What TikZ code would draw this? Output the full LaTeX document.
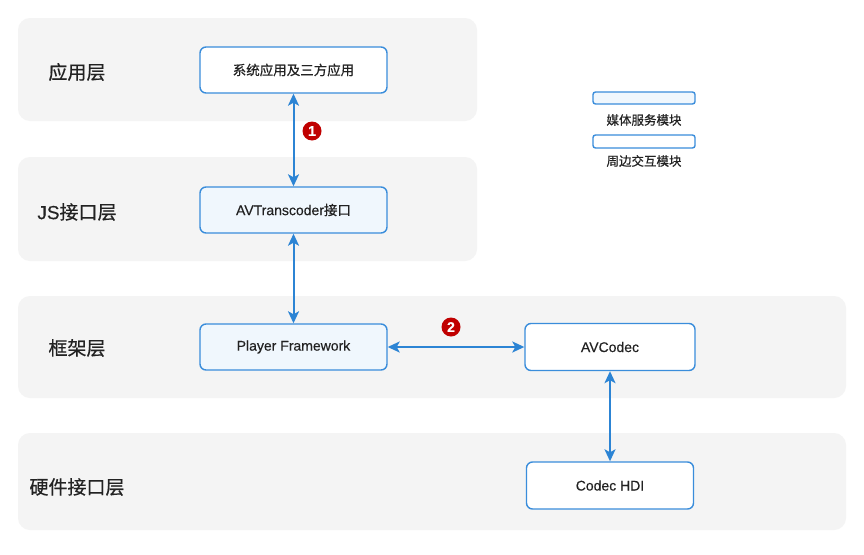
\documentclass[tikz,border=0pt]{standalone}
\usepackage{fontspec}
\setmainfont{Liberation Sans}[RawFeature={embolden=0.3}]
\newfontfamily\cjk{Noto Sans CJK SC}[RawFeature={embolden=0.6}]
\usetikzlibrary{arrows.meta}
\definecolor{layerbg}{HTML}{F4F4F4}
\definecolor{edgeblue}{HTML}{3A8DDB}
\definecolor{arrowblue}{HTML}{2C84D4}
\definecolor{paleblue}{HTML}{F0F7FD}
\definecolor{markred}{HTML}{C00000}
\definecolor{txt}{HTML}{222222}
\tikzset{
  layer/.style={fill=layerbg, draw=none, rounded corners=12pt},
  layerlabel/.style={font=\fontsize{19}{21}\selectfont, text=txt, anchor=center},
  modbox/.style={draw=edgeblue, line width=1.4pt, rounded corners=6pt, fill=white,
     minimum width=187pt, minimum height=46pt, inner sep=0pt,
     font=\fontsize{14}{16}\selectfont, text=txt},
  svcbox/.style={modbox, fill=paleblue},
  legbox/.style={draw=edgeblue, line width=1.4pt, rounded corners=2.5pt,
     minimum width=102pt, minimum height=12pt, inner sep=0pt},
  legtext/.style={font=\fontsize{12.5}{14}\selectfont, text=txt},
  link/.style={draw=arrowblue, line width=2pt,
     {Stealth[length=12pt,width=11pt,inset=3pt]}-{Stealth[length=12pt,width=11pt,inset=3pt]}},
  marker/.style={circle, fill=markred, text=white, inner sep=0pt, minimum size=19pt,
     font=\fontsize{14}{15}\selectfont\bfseries}
}
\begin{document}
\begin{tikzpicture}[x=1pt, y=-1pt]
\useasboundingbox (0,0) rectangle (864,554);
\fill[white] (0,0) rectangle (864,554);
% layers
\path[layer] (18,18) rectangle (477,121);
\path[layer] (18,157) rectangle (477,261);
\path[layer] (18,296) rectangle (846,398);
\path[layer] (18,433) rectangle (846,530);
\node[layerlabel] (l1) at (77,72) {\cjk 应用层};
\node[layerlabel] (l2) at (77,212) {JS{\cjk 接口层}};
\node[layerlabel] (l3) at (77,348) {\cjk 框架层};
\node[layerlabel] (l4) at (77,487) {\cjk 硬件接口层};
% modules
\node[modbox] (sys) at (293.5,70) {\cjk\fontsize{13.5}{15}\selectfont 系统应用及三方应用};
\node[svcbox] (avt) at (293.5,210) {AVTranscoder{\cjk\fontsize{13.5}{15}\selectfont 接口}};
\node[svcbox] (pf) at (293.5,347) {Player Framework};
\node[modbox, minimum width=170pt, minimum height=47pt] (avc) at (610,347) {AVCodec};
\node[modbox, minimum width=167pt, minimum height=47pt] (hdi) at (610,485.5) {Codec HDI};
% connectors
\draw[link] (sys.south) -- (avt.north);
\draw[link] (avt.south) -- (pf.north);
\draw[link] (pf.east) -- (avc.west);
\draw[link] (avc.south) -- (hdi.north);
% markers
\node[marker] (m1) at (312,131) {1};
\node[marker] (m2) at (451,327) {2};
% legend
\node[legbox, fill=paleblue] (lg1) at (644,98) {};
\node[legtext] (lt1) at (644,120) {\cjk 媒体服务模块};
\node[legbox, fill=white, minimum height=13pt] (lg2) at (644,141.5) {};
\node[legtext] (lt2) at (644,161) {\cjk 周边交互模块};
\end{tikzpicture}
\end{document}
